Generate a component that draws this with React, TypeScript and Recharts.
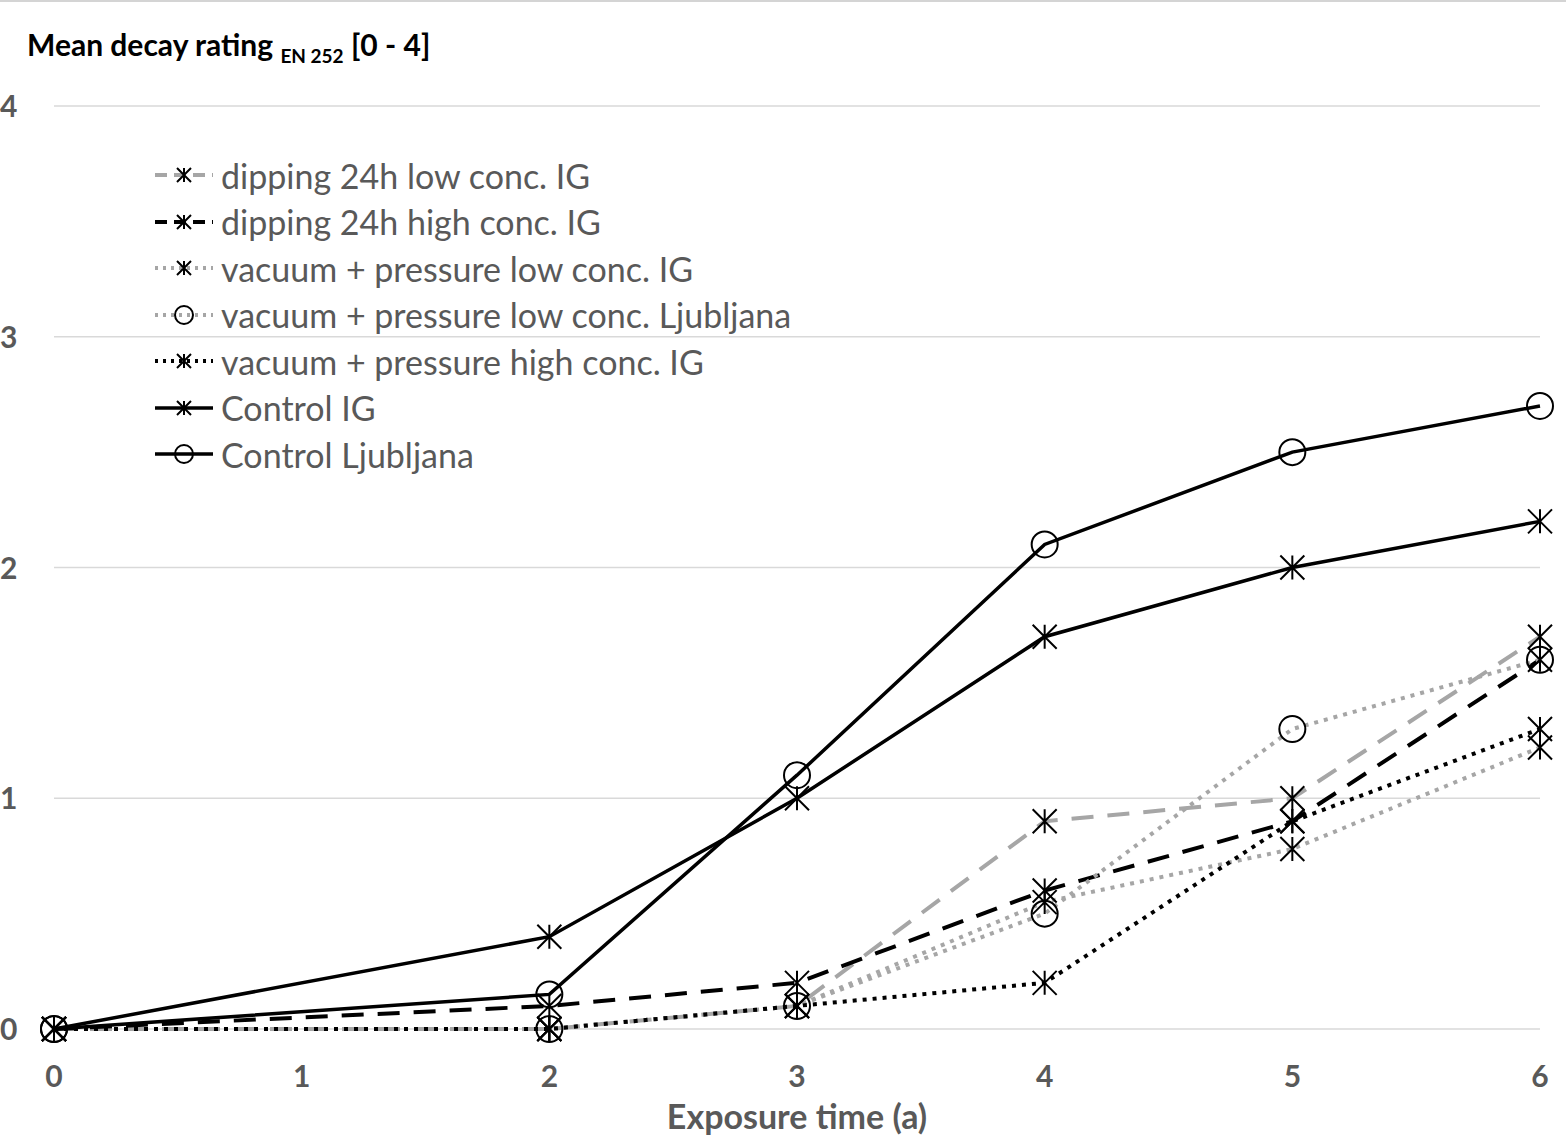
import { LineChart, Line, XAxis, YAxis, CartesianGrid } from 'recharts';

const years = [0, 2, 3, 4, 5, 6];
const dippingLowIG = [0, 0, 0.1, 0.9, 1.0, 1.7];
const dippingHighIG = [0, 0.1, 0.2, 0.6, 0.9, 1.6];
const vacLowIG = [0, 0, 0.1, 0.55, 0.78, 1.22];
const vacLowLj = [0, 0, 0.1, 0.5, 1.3, 1.6];
const vacHighIG = [0, 0, 0.1, 0.2, 0.9, 1.3];
const controlIG = [0, 0.4, 1.0, 1.7, 2.0, 2.2];
const controlLj = [0, 0.15, 1.1, 2.1, 2.5, 2.7];

const xTicks = [0, 1, 2, 3, 4, 5, 6];
const yTicks = [0, 1, 2, 3, 4];

const data = years.map((y, i) => ({
  year: y,
  dLow: dippingLowIG[i],
  dHigh: dippingHighIG[i],
  vLowIG: vacLowIG[i],
  vLowLj: vacLowLj[i],
  vHigh: vacHighIG[i],
  cIG: controlIG[i],
  cLj: controlLj[i],
}));

const GREY = '#a6a6a6';
const TEXT = '#595959';
const FONT = 'Lato, "Open Sans", sans-serif';

type Marker = 'star' | 'circle';

const series: { key: string; name: string; color: string; width: number; dash?: string; marker: Marker }[] = [
  { key: 'dLow', name: 'dipping 24h low conc. IG', color: GREY, width: 4, dash: '22 14', marker: 'star' },
  { key: 'dHigh', name: 'dipping 24h high conc. IG', color: '#000', width: 4, dash: '22 14', marker: 'star' },
  { key: 'vLowIG', name: 'vacuum + pressure low conc. IG', color: GREY, width: 4, dash: '4 6', marker: 'star' },
  { key: 'vLowLj', name: 'vacuum + pressure low conc. Ljubljana', color: GREY, width: 4, dash: '4 6', marker: 'circle' },
  { key: 'vHigh', name: 'vacuum + pressure high conc. IG', color: '#000', width: 4, dash: '4 6', marker: 'star' },
  { key: 'cIG', name: 'Control IG', color: '#000', width: 3.5, marker: 'star' },
  { key: 'cLj', name: 'Control Ljubljana', color: '#000', width: 3.5, marker: 'circle' },
];

function markerShape(m: Marker, cx: number, cy: number, s: number, key?: any) {
  if (m === 'circle') {
    return <circle key={key} cx={cx} cy={cy} r={s} stroke="#000" strokeWidth={2} fill="none" />;
  }
  return (
    <path
      key={key}
      d={`M${cx},${cy - s}V${cy + s}M${cx - s},${cy - s}L${cx + s},${cy + s}M${cx + s},${cy - s}L${cx - s},${cy + s}`}
      stroke="#000"
      strokeWidth={2}
      fill="none"
    />
  );
}

const YTick = ({ y, payload }: any) => (
  <text x={0} y={y + 11} textAnchor="start" fill={TEXT} fontSize={30} fontWeight={700} fontFamily={FONT}>
    {payload.value}
  </text>
);

const XTick = ({ x, y, payload }: any) => (
  <text x={x} y={y + 50} textAnchor="middle" fill={TEXT} fontSize={30} fontWeight={700} fontFamily={FONT}>
    {payload.value}
  </text>
);

function LegendBox() {
  return (
    <div style={{ position: 'absolute', left: 152, top: 150, fontFamily: FONT, fontSize: 34, color: TEXT }}>
      {series.map((s) => (
        <div key={s.key} style={{ display: 'flex', alignItems: 'center', height: 46.5, whiteSpace: 'nowrap' }}>
          <svg width={66} height={30} style={{ marginRight: 3 }}>
            <line x1={3} y1={15} x2={61} y2={15} stroke={s.color} strokeWidth={s.width} strokeDasharray={s.dash ? (s.dash === '4 6' ? '3 5' : '12 7') : undefined} />
            {markerShape(s.marker, 32, 15, s.marker === 'circle' ? 9 : 7)}
          </svg>
          <span>{s.name}</span>
        </div>
      ))}
    </div>
  );
}

export default function App() {
  return (
    <div style={{ position: 'absolute', left: 0, top: 0, width: 1566, height: 1138, background: '#fff', borderTop: '2px solid #d4d4d4', boxSizing: 'border-box' }}>
      <div style={{ position: 'absolute', left: 27, top: 24, fontFamily: FONT, fontWeight: 700, fontSize: 30, color: '#000', whiteSpace: 'nowrap' }}>
        Mean decay rating <sub style={{ fontSize: 19 }}>EN 252</sub> [0 - 4]
      </div>
      <LineChart width={1566} height={1136} data={data} margin={{ top: 104, right: 26, bottom: 0, left: 0 }}>
        <CartesianGrid vertical={false} stroke="#d9d9d9" strokeWidth={1.5} />
        <XAxis
          dataKey="year"
          type="number"
          domain={[0, 6]}
          ticks={xTicks}
          axisLine={false}
          tickLine={false}
          height={109}
          tick={<XTick />}
          label={{ value: 'Exposure time (a)', position: 'insideBottom', offset: 9, fill: TEXT, fontSize: 34, fontWeight: 700, fontFamily: FONT }}
        />
        <YAxis type="number" domain={[0, 4]} ticks={yTicks} axisLine={false} tickLine={false} width={54} tick={<YTick />} />
        {series.map((s) => (
          <Line
            key={s.key}
            dataKey={s.key}
            name={s.name}
            type="linear"
            stroke={s.color}
            strokeWidth={s.width}
            strokeDasharray={s.dash}
            isAnimationActive={false}
            dot={(p: any) => markerShape(s.marker, p.cx, p.cy, s.marker === 'circle' ? 13 : 12, `${s.key}-${p.index}`)}
            activeDot={false}
          />
        ))}
      </LineChart>
      <LegendBox />
    </div>
  );
}
